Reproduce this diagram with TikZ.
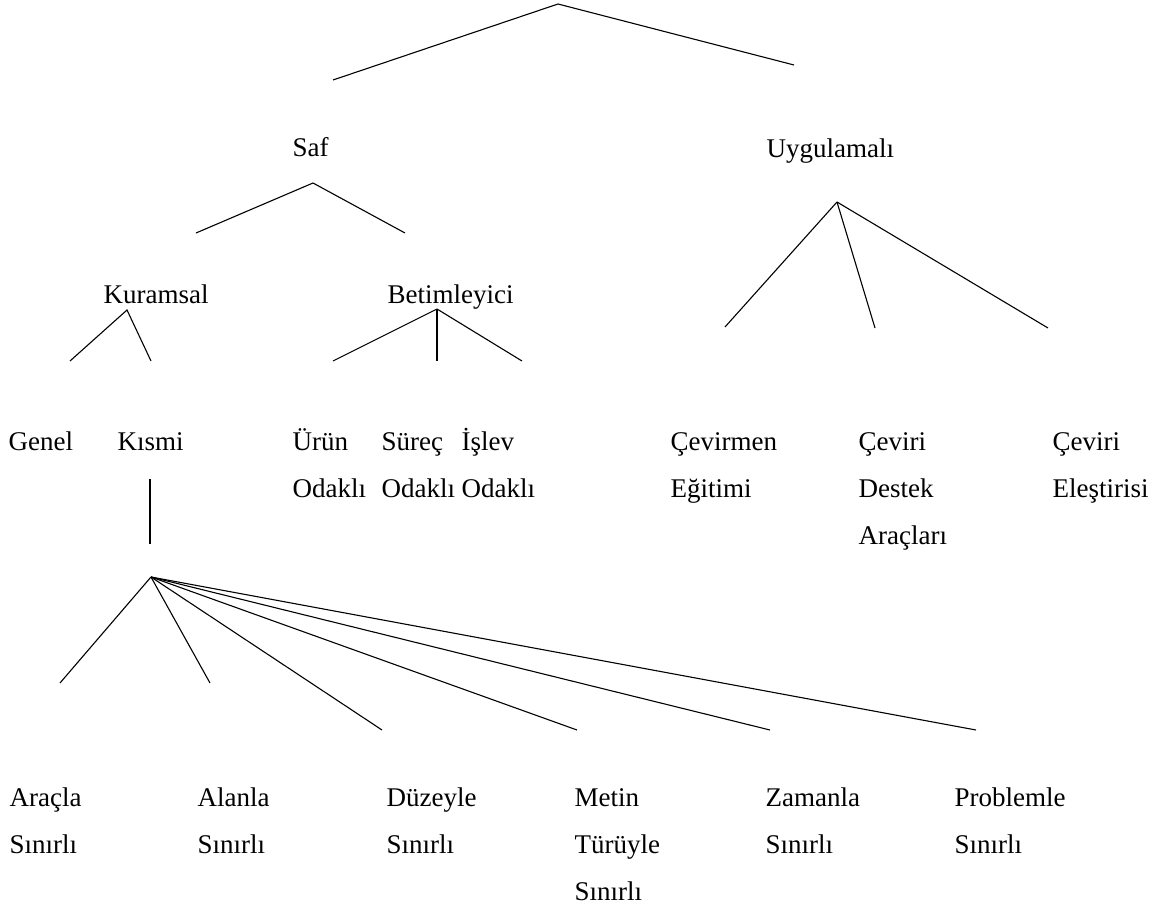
\documentclass[tikz,border=0pt]{standalone}
\usepackage{fontspec}
\setmainfont{Liberation Serif}
\tikzset{
  lbl/.style={anchor=base west, inner sep=0pt, align=left, font=\fontsize{27}{47}\selectfont},
}
\begin{document}
\begin{tikzpicture}[x=1pt, y=-1pt, line width=1.1pt]
\useasboundingbox (0,0) rectangle (1154,912);
%labels (placed at the baseline of their last line)
  \node[lbl] (saf) at (292,157) {Saf};
  \node[lbl] (uyg) at (766,158) {Uygulamalı};
  \node[lbl] (kur) at (103,303) {Kuramsal};
  \node[lbl] (bet) at (387,303) {Betimleyici};
  \node[lbl] (gen) at (8,450) {Genel};
  \node[lbl] (kis) at (117,450) {Kısmi};
  \node[lbl] (urun) at (292,497) {Ürün\\Odaklı};
  \node[lbl] (surec) at (381,497) {Süreç\\Odaklı};
  \node[lbl] (islev) at (461,497) {İşlev\\Odaklı};
  \node[lbl] (egit) at (670,497) {Çevirmen\\Eğitimi};
  \node[lbl] (destek) at (858,544) {Çeviri\\Destek\\Araçları};
  \node[lbl] (elest) at (1052,497) {Çeviri\\Eleştirisi};
  \node[lbl] (arac) at (9,853) {Araçla\\Sınırlı};
  \node[lbl] (alan) at (197,853) {Alanla\\Sınırlı};
  \node[lbl] (duzey) at (386,853) {Düzeyle\\Sınırlı};
  \node[lbl] (metin) at (574,900) {Metin\\Türüyle\\Sınırlı};
  \node[lbl] (zaman) at (765,853) {Zamanla\\Sınırlı};
  \node[lbl] (prob) at (954,853) {Problemle\\Sınırlı};

%branch points
  \coordinate (R) at (558,4);
  \coordinate (R1) at (333,80);
  \coordinate (R2) at (794,65);
  \coordinate (S) at (313,183);
  \coordinate (S1) at (196,233);
  \coordinate (S2) at (405,233);
  \coordinate (U) at (837,202);
  \coordinate (U1) at (725,327);
  \coordinate (U2) at (875,328);
  \coordinate (U3) at (1048,328);
  \coordinate (K) at (127,310);
  \coordinate (K1) at (70,361);
  \coordinate (K2) at (151,361);
  \coordinate (B) at (437,309);
  \coordinate (B1) at (333,361);
  \coordinate (B2) at (437,361);
  \coordinate (B3) at (522,361);
  \coordinate (M0) at (150,479);
  \coordinate (M1) at (150,544);
  \coordinate (F) at (151,577);
  \coordinate (F1) at (60,683);
  \coordinate (F2) at (210,683);
  \coordinate (F3) at (382,730);
  \coordinate (F4) at (577,730);
  \coordinate (F5) at (770,730);
  \coordinate (F6) at (976,730);

%edges
  \draw (R1) -- (R) -- (R2);
  \draw (S1) -- (S) -- (S2);
  \foreach \i in {1,2,3}{
    \draw (U) -- (U\i);
    \draw (B) -- (B\i);
  }
  \draw (K1) -- (K) -- (K2);
  \draw (M0) -- (M1);
  \foreach \i in {1,...,6}{
    \draw (F) -- (F\i);
  }
\end{tikzpicture}
\end{document}
